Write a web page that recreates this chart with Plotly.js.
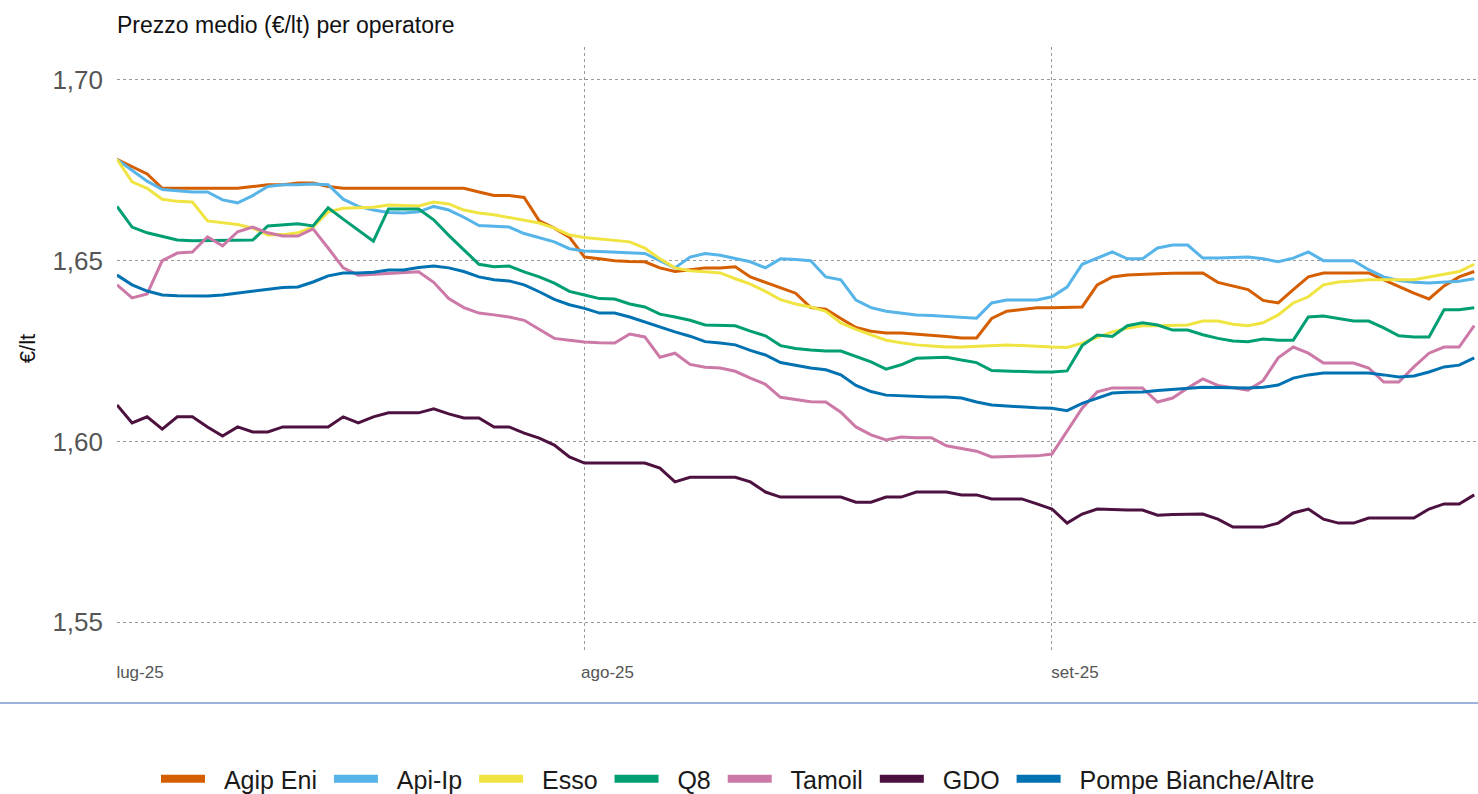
<!DOCTYPE html>
<html>
<head>
<meta charset="utf-8">
<script src="https://cdn.plot.ly/plotly-3.0.1.min.js"></script>
<style>
html,body{margin:0;padding:0;background:#fff;}
#chart{width:1478px;height:794px;}
</style>
</head>
<body>
<div id="chart"></div>
<script>
// Daily observations from 1 July 2025 (91 days)
const startDate = "2025-07-01";
const seriesNames = ["Agip Eni","Api-Ip","Esso","Q8","Tamoil","GDO","Pompe Bianche/Altre"];
const seriesColors = ["#D55E00","#56B4E9","#F0E442","#009E73","#CC79A7","#4D1140","#0072B2"];
const monthTicks = ["2025-07-01","2025-08-01","2025-09-01"];
const monthLabels = ["lug-25","ago-25","set-25"];
const yTicks = [1.55,1.60,1.65,1.70];

const agipEni = [1.678,1.676,1.674,1.670,1.670,1.670,1.670,1.670,1.670,1.6705,1.671,1.671,1.6715,1.6715,1.6705,1.670,1.670,1.670,1.670,1.670,1.670,1.670,1.670,1.670,1.669,1.668,1.668,1.6675,1.661,1.659,1.6565,1.651,1.6505,1.650,1.6498,1.6497,1.648,1.647,1.6475,1.648,1.648,1.6483,1.6455,1.644,1.6425,1.641,1.637,1.6366,1.634,1.6315,1.6305,1.630,1.630,1.6297,1.6295,1.629,1.6286,1.6286,1.634,1.636,1.6365,1.637,1.637,1.637,1.6372,1.6433,1.6455,1.646,1.6463,1.6464,1.6465,1.6466,1.6466,1.644,1.643,1.642,1.639,1.6383,1.642,1.6455,1.6466,1.6466,1.6466,1.6466,1.6447,1.6428,1.641,1.6394,1.643,1.6455,1.647];
const apiIp = [1.678,1.675,1.672,1.6697,1.6693,1.669,1.669,1.6668,1.666,1.668,1.6705,1.671,1.671,1.6712,1.671,1.667,1.665,1.664,1.6633,1.6632,1.6635,1.665,1.664,1.662,1.6597,1.6595,1.6593,1.6575,1.6563,1.6552,1.6533,1.6527,1.6525,1.6523,1.652,1.652,1.650,1.648,1.651,1.652,1.6515,1.6505,1.6497,1.648,1.6505,1.6503,1.650,1.6455,1.6447,1.6391,1.637,1.636,1.6355,1.635,1.6348,1.6345,1.6343,1.6341,1.6383,1.6391,1.6391,1.6391,1.640,1.6427,1.649,1.6507,1.6524,1.6505,1.6505,1.6535,1.6543,1.6543,1.6507,1.6507,1.6508,1.651,1.6505,1.6497,1.6507,1.6524,1.650,1.650,1.650,1.6475,1.6455,1.6445,1.644,1.6438,1.644,1.6443,1.645];
const esso = [1.678,1.6718,1.670,1.667,1.6664,1.6662,1.661,1.6605,1.660,1.659,1.6571,1.6572,1.6577,1.6593,1.6635,1.6645,1.6646,1.6648,1.6654,1.6653,1.6651,1.6662,1.6657,1.664,1.6632,1.6627,1.662,1.6612,1.6604,1.659,1.6571,1.6564,1.656,1.6556,1.6552,1.6535,1.6505,1.648,1.6472,1.6469,1.6466,1.645,1.6435,1.6415,1.6392,1.638,1.6372,1.636,1.6328,1.631,1.6295,1.628,1.6273,1.6267,1.6264,1.6261,1.6261,1.6263,1.6265,1.6267,1.6265,1.6262,1.6261,1.626,1.6272,1.6288,1.6303,1.6313,1.632,1.632,1.6322,1.6322,1.6333,1.6333,1.6324,1.632,1.6328,1.635,1.6383,1.640,1.6433,1.6441,1.6444,1.6447,1.6447,1.6447,1.6447,1.6455,1.6463,1.647,1.649];
const q8 = [1.665,1.6593,1.6577,1.6566,1.6557,1.6555,1.6555,1.6555,1.6556,1.6557,1.6596,1.6598,1.6602,1.6596,1.6646,1.6615,1.6585,1.6554,1.6643,1.6643,1.6643,1.6613,1.657,1.653,1.649,1.6483,1.6485,1.6469,1.6455,1.6438,1.6415,1.6405,1.6395,1.6394,1.638,1.6372,1.6352,1.6344,1.6335,1.6322,1.632,1.632,1.6305,1.6292,1.6265,1.6257,1.6253,1.625,1.625,1.6235,1.622,1.620,1.6212,1.623,1.6232,1.6233,1.6225,1.6218,1.6196,1.6194,1.6193,1.6192,1.6192,1.6195,1.6265,1.6294,1.629,1.632,1.6328,1.6322,1.6308,1.6308,1.6295,1.6285,1.6278,1.6276,1.6283,1.628,1.628,1.6344,1.6347,1.634,1.6333,1.6333,1.6314,1.6292,1.6289,1.6289,1.6364,1.6364,1.637];
const tamoil = [1.6433,1.6397,1.6408,1.650,1.6521,1.6524,1.6566,1.6541,1.658,1.6593,1.6577,1.6568,1.6568,1.6588,1.6535,1.648,1.646,1.6462,1.6464,1.6466,1.6469,1.644,1.6395,1.637,1.6355,1.635,1.6344,1.6335,1.631,1.6285,1.628,1.6275,1.6273,1.6272,1.6297,1.6289,1.6233,1.6244,1.6213,1.6205,1.6203,1.6194,1.6175,1.6158,1.6122,1.6115,1.611,1.6109,1.6081,1.604,1.6018,1.6004,1.6012,1.601,1.601,1.5988,1.598,1.5973,1.5957,1.5958,1.5959,1.596,1.5965,1.603,1.6092,1.6137,1.6148,1.6148,1.6148,1.6109,1.612,1.6148,1.6173,1.6155,1.6148,1.6142,1.6168,1.6231,1.6261,1.6244,1.6217,1.6217,1.6217,1.6203,1.6164,1.6164,1.6206,1.6244,1.6261,1.6261,1.632];
const gdo = [1.6101,1.6051,1.6068,1.6034,1.6068,1.6068,1.604,1.6015,1.604,1.6026,1.6026,1.604,1.604,1.604,1.604,1.6068,1.6051,1.6068,1.6079,1.6079,1.6079,1.609,1.6076,1.6065,1.6065,1.604,1.604,1.6023,1.6009,1.599,1.5957,1.594,1.594,1.594,1.594,1.594,1.5926,1.5888,1.5901,1.5901,1.5901,1.5901,1.5888,1.586,1.5846,1.5846,1.5846,1.5846,1.5846,1.5832,1.5832,1.5846,1.5846,1.586,1.586,1.586,1.5852,1.5852,1.5841,1.5841,1.5841,1.5827,1.5813,1.5774,1.5799,1.5813,1.5811,1.581,1.581,1.5796,1.5798,1.5799,1.5799,1.5785,1.5763,1.5763,1.5763,1.5774,1.5802,1.5813,1.5785,1.5774,1.5774,1.5788,1.5788,1.5788,1.5788,1.5813,1.5827,1.5827,1.5852];
const pompeBianche = [1.646,1.6433,1.6416,1.6405,1.6403,1.6402,1.6402,1.6405,1.641,1.6414,1.6419,1.6426,1.6427,1.6441,1.6458,1.6466,1.6466,1.6468,1.6474,1.6474,1.6481,1.6485,1.648,1.647,1.6455,1.6447,1.6444,1.6433,1.6414,1.6393,1.6378,1.6368,1.6355,1.6355,1.6344,1.633,1.6317,1.6303,1.6291,1.6276,1.6272,1.6267,1.6252,1.6239,1.6218,1.621,1.6203,1.6198,1.6184,1.6155,1.6138,1.6128,1.6126,1.6124,1.6123,1.6123,1.612,1.6109,1.6101,1.6098,1.6095,1.6093,1.6092,1.6085,1.6105,1.612,1.6134,1.6136,1.6137,1.6141,1.6144,1.6148,1.615,1.6149,1.6148,1.6148,1.615,1.6156,1.6175,1.6184,1.6189,1.6189,1.6189,1.6189,1.6184,1.6178,1.6181,1.6192,1.6206,1.6211,1.6231];

const allSeries = [agipEni, apiIp, esso, q8, tamoil, gdo, pompeBianche];

function dayList(start, n){
  const out = [];
  const d0 = new Date(start + "T00:00:00Z");
  for (let i = 0; i < n; i++){
    const d = new Date(d0.getTime() + i*86400000);
    out.push(d.toISOString().slice(0,10));
  }
  return out;
}
const dates = dayList(startDate, agipEni.length);

const FONT = "Liberation Sans, Arial, sans-serif";

// data lines (not in legend)
const traces = allSeries.map((ys, i) => ({
  type: "scatter",
  mode: "lines",
  name: seriesNames[i],
  legendgroup: seriesNames[i],
  showlegend: false,
  x: dates,
  y: ys,
  line: {color: seriesColors[i], width: 3}
}));
// legend keys with thick swatches (small non-breaking gaps around label)
seriesNames.forEach((nm, i) => {
  traces.push({
    type: "scatter",
    mode: "lines",
    name: "\u00A0\u00A0" + nm + (i < seriesNames.length - 1 ? "\u00A0" : ""),
    legendgroup: nm,
    showlegend: true,
    x: [null],
    y: [null],
    line: {color: seriesColors[i], width: 8}
  });
});

const layout = {
  width: 1478,
  height: 794,
  margin: {l: 117, r: 0, t: 47, b: 144, pad: 0, autoexpand: false},
  paper_bgcolor: "#ffffff",
  plot_bgcolor: "#ffffff",
  separators: ",.",
  font: {family: FONT, color: "#222"},
  showlegend: true,
  title: {
    text: "Prezzo medio (€/lt) per operatore",
    font: {family: FONT, size: 23, color: "#111"},
    xref: "paper", x: 0, xanchor: "left",
    yref: "container", y: 1 - 25/794, yanchor: "middle"
  },
  xaxis: {
    type: "date",
    range: ["2025-07-01", "2025-09-29 06:00"],
    tickvals: monthTicks,
    ticktext: monthLabels,
    ticks: "",
    ticklabelshift: 23,
    ticklabelstandoff: 10,
    tickfont: {family: FONT, size: 17, color: "#555"},
    showgrid: true,
    gridcolor: "#9a9a9a",
    griddash: "dot",
    gridwidth: 1,
    zeroline: false,
    showline: false,
    automargin: false
  },
  yaxis: {
    range: [1.5423, 1.7091],
    tickvals: yTicks,
    tickformat: ".2f",
    ticks: "",
    ticklabelstandoff: 13,
    tickfont: {family: FONT, size: 26, color: "#555"},
    showgrid: true,
    gridcolor: "#9a9a9a",
    griddash: "dot",
    gridwidth: 1,
    zeroline: false,
    showline: false,
    automargin: false,
    title: {text: "€/lt", font: {family: FONT, size: 22, color: "#111"}, standoff: 10}
  },
  legend: {
    orientation: "h",
    x: (738 - 117) / 1361,
    xanchor: "center",
    y: (650 - 779) / 603,
    yanchor: "middle",
    font: {family: FONT, size: 25, color: "#1a1a1a"},
    itemwidth: 44,
    traceorder: "normal",
    bgcolor: "rgba(0,0,0,0)"
  },
  shapes: [{
    type: "line",
    xref: "paper", yref: "paper",
    x0: -117/1361, x1: 1,
    y0: (650 - 703) / 603, y1: (650 - 703) / 603,
    line: {color: "#7d9ad0", width: 1.5}
  }]
};

Plotly.newPlot("chart", traces, layout, {displayModeBar: false, staticPlot: true});
</script>
</body>
</html>
